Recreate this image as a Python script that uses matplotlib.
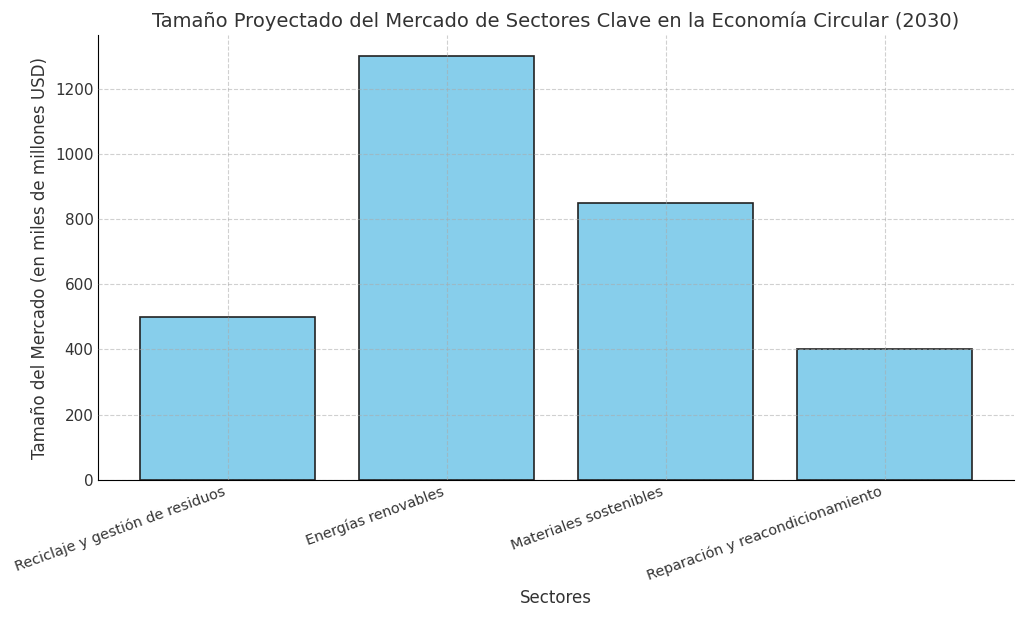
import matplotlib.pyplot as plt

sectores = ["Reciclaje y gestión de residuos", "Energías renovables",
            "Materiales sostenibles", "Reparación y reacondicionamiento"]
tamano = [500, 1300, 850, 400]

fig, ax = plt.subplots(figsize=(10.24, 6.19), dpi=100)
ax.bar(sectores, tamano, color="skyblue", edgecolor="#222222", linewidth=1.2)

ax.set_title("Tamaño Proyectado del Mercado de Sectores Clave en la Economía Circular (2030)",
             fontsize=14, color="#333333")
ax.set_xlabel("Sectores", fontsize=12, color="#333333", labelpad=4)
ax.set_ylabel("Tamaño del Mercado (en miles de millones USD)", fontsize=12, color="#333333")

ax.set_axisbelow(False)
ax.grid(True, linestyle="--", color="#aaaaaa", alpha=0.55, linewidth=0.8)
ax.spines["top"].set_visible(False)
ax.spines["right"].set_visible(False)
ax.tick_params(axis="y", labelsize=11, colors="#333333", direction="in", length=0)
ax.tick_params(axis="x", labelsize=10.4, colors="#333333", direction="in", length=0)
plt.setp(ax.get_xticklabels(), rotation=20, ha="right")

fig.subplots_adjust(left=0.096, right=0.99, top=0.943, bottom=0.225)
fig.savefig("out.png")
